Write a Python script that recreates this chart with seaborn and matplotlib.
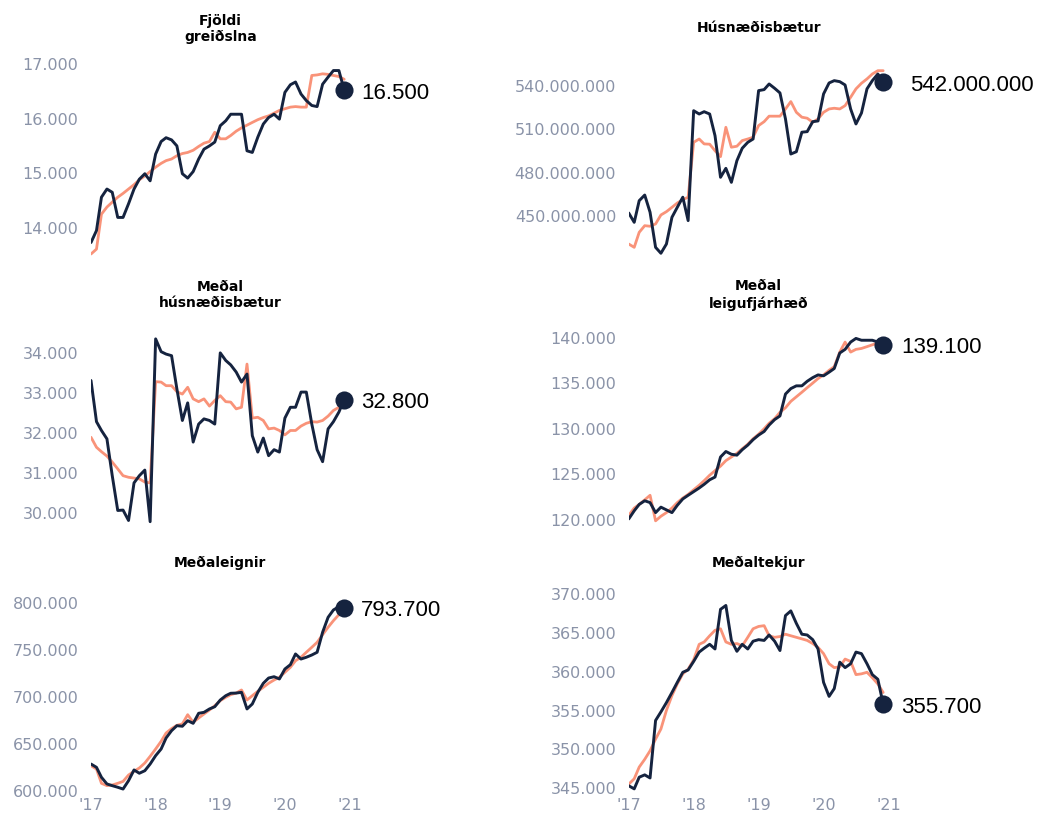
import matplotlib
matplotlib.use("Agg")
import matplotlib.pyplot as plt
import matplotlib.ticker as mticker
import seaborn as sns
import pandas as pd

# ---------------- data ----------------
months = pd.date_range("2017-01-01", periods=48, freq="MS")
year_ticks = pd.to_datetime(["2017-01-01", "2018-01-01", "2019-01-01", "2020-01-01", "2021-01-01"])
year_labels = ["'17", "'18", "'19", "'20", "'21"]

titles = ["Fjöldi\ngreiðslna", "Húsnæðisbætur", "Meðal\nhúsnæðisbætur",
          "Meðal\nleigufjárhæð", "Meðaleignir", "Meðaltekjur"]

fjoldi_monthly = [13710, 13930, 14540, 14690, 14630, 14170, 14170, 14420, 14690, 14870, 14970, 14840,
                  15330, 15560, 15630, 15590, 15480, 14970, 14890, 15010, 15240, 15420, 15480, 15550,
                  15850, 15940, 16060, 16060, 16060, 15390, 15360, 15640, 15880, 16000, 16060, 15970,
                  16460, 16600, 16650, 16430, 16310, 16220, 16200, 16610, 16740, 16860, 16860, 16500]
fjoldi_trend = [13500, 13590, 14230, 14360, 14450, 14540, 14610, 14690, 14770, 14860, 14930, 15010,
                15090, 15160, 15210, 15240, 15300, 15340, 15360, 15400, 15470, 15530, 15560, 15730,
                15610, 15610, 15670, 15750, 15810, 15860, 15910, 15960, 16000, 16030, 16080, 16130,
                16160, 16190, 16200, 16190, 16190, 16770, 16780, 16800, 16790, 16770, 16750, 16700]

# Húsnæðisbætur, in millions of krónur
husn_monthly_m = [451.4, 444.9, 459.9, 463.8, 451.9, 427.6, 423.5, 429.9, 448.4, 455.3, 462.3, 446.1,
                  522.2, 519.9, 521.5, 519.9, 504.9, 476.1, 482.3, 472.6, 487.6, 496.2, 500.3, 502.6,
                  536.1, 536.8, 540.7, 537.7, 534.5, 516.5, 492.2, 493.8, 507.3, 507.7, 514.6, 515.1,
                  533.8, 541.4, 543.0, 542.3, 540.0, 523.4, 513.0, 520.6, 537.3, 543.0, 547.6, 542.0]
husn_trend_m = [429.9, 427.6, 438.0, 442.6, 442.2, 443.8, 450.0, 452.3, 455.3, 458.3, 460.6, 462.3,
                500.3, 502.6, 499.2, 499.0, 494.5, 490.4, 510.7, 496.9, 497.6, 501.5, 502.6, 503.8,
                511.9, 514.6, 518.4, 518.4, 518.4, 523.4, 528.5, 521.1, 517.7, 517.0, 514.2, 516.5,
                521.1, 523.4, 523.9, 523.4, 525.7, 531.5, 537.3, 541.2, 544.2, 547.6, 549.9, 549.9]

medal_husn_monthly = [33280, 32250, 32030, 31820, 30900, 30030, 30040, 29780, 30720, 30900, 31040, 29750,
                      34320, 34000, 33940, 33900, 33070, 32280, 32720, 31740, 32190, 32320, 32280, 32190,
                      33970, 33780, 33670, 33490, 33240, 33440, 31900, 31490, 31840, 31400, 31550, 31490,
                      32340, 32610, 32610, 32990, 32990, 32190, 31550, 31250, 32070, 32250, 32490, 32800]
medal_husn_trend = [31860, 31610, 31500, 31390, 31240, 31070, 30900, 30860, 30840, 30820, 30740, 30720,
                    33250, 33240, 33150, 33150, 33000, 32940, 33110, 32820, 32750, 32820, 32640, 32780,
                    32900, 32750, 32740, 32570, 32610, 33690, 32340, 32360, 32280, 32070, 32090, 32030,
                    31920, 32030, 32030, 32140, 32210, 32250, 32240, 32280, 32390, 32530, 32610, 32650]

leiga_monthly = [120000, 120900, 121600, 122000, 121800, 120700, 121300, 121000, 120700, 121500, 122200, 122600,
                 123000, 123400, 123800, 124300, 124600, 126800, 127400, 127100, 127000, 127600, 128100, 128700,
                 129200, 129600, 130300, 130900, 131300, 133700, 134300, 134600, 134600, 135100, 135500, 135800,
                 135700, 136100, 136500, 138200, 138600, 139400, 139800, 139600, 139600, 139600, 139400, 139100]
leiga_trend = [120400, 121200, 121600, 122100, 122600, 119800, 120300, 120700, 121200, 121800, 122300, 122700,
               123200, 123700, 124200, 124800, 125300, 125800, 126400, 126800, 127200, 127700, 128200, 128800,
               129300, 129900, 130500, 131000, 131700, 132200, 132900, 133400, 133900, 134400, 134900, 135400,
               135800, 136300, 136700, 138300, 139400, 138300, 138600, 138700, 138900, 139100, 139300, 139400]

eignir_monthly = [627300, 623800, 613200, 606100, 604300, 602600, 600700, 609600, 621000, 617500, 620200, 627300,
                  636200, 643300, 655000, 662800, 668100, 667500, 673400, 670600, 681300, 682300, 685900, 688300,
                  695400, 700000, 702600, 702800, 703600, 685900, 691200, 703600, 713200, 718800, 720200, 717800,
                  728400, 733000, 744400, 739000, 740900, 743300, 746200, 767500, 783400, 791200, 794700, 793700]
eignir_trend = [625500, 622000, 606800, 604300, 605000, 606800, 608800, 615600, 619600, 623100, 628400, 635500,
                643300, 651500, 660300, 665000, 668500, 670000, 679800, 671700, 676300, 680500, 684800, 689400,
                694700, 698300, 701100, 702800, 706100, 695400, 700000, 704700, 708900, 713200, 716700, 719600,
                724900, 730200, 737200, 740900, 746200, 751500, 756800, 764900, 772800, 779800, 786200, 789800]

tekjur_monthly = [345200, 344800, 346300, 346600, 346200, 353600, 354700, 355900, 357200, 358500, 359800, 360100,
                  361200, 362400, 362900, 363400, 362800, 367900, 368400, 363900, 362500, 363400, 362800, 363800,
                  364000, 363900, 364600, 363800, 362600, 367100, 367700, 366100, 364700, 364600, 364000, 362800,
                  358500, 356700, 357700, 361100, 360400, 360900, 362400, 362200, 360900, 359500, 358900, 355700]
tekjur_trend = [345400, 346100, 347600, 348600, 349700, 351200, 352500, 354900, 356800, 358300, 359600, 360200,
                361400, 363400, 363700, 364500, 365200, 365400, 363700, 363400, 363500, 363200, 364300, 365400,
                365700, 365800, 364500, 364300, 364400, 364700, 364500, 364300, 364100, 363900, 363500, 363000,
                362200, 360900, 360400, 360500, 361500, 361200, 359500, 359600, 359800, 359100, 358300, 357200]

monthly_series = [fjoldi_monthly, [v * 1e6 for v in husn_monthly_m], medal_husn_monthly,
                  leiga_monthly, eignir_monthly, tekjur_monthly]
trend_series = [fjoldi_trend, [v * 1e6 for v in husn_trend_m], medal_husn_trend,
                leiga_trend, eignir_trend, tekjur_trend]

y_ticks = [[14000, 15000, 16000, 17000],
           [450e6, 480e6, 510e6, 540e6],
           [30000, 31000, 32000, 33000, 34000],
           [120000, 125000, 130000, 135000, 140000],
           [600000, 650000, 700000, 750000, 800000],
           [345000, 350000, 355000, 360000, 365000, 370000]]

# ---------------- style ----------------
NAVY = "#15233f"
SALMON = "#f99379"
GREY = "#8a93a8"

sns.set_theme(style="white")
plt.rcParams['font.family'] = ['DejaVu Sans']

W, H = 1041, 820
fig = plt.figure(figsize=(W / 100, H / 100), dpi=100)

col_px = [(91, 349.7), (628.7, 888.7)]
# (column, top px, bottom px, ylim, title centre y px, label offset px)
layout = [
    (0, 55, 262, (13372, 17163), 29, 17),
    (1, 62, 262, (418.14e6, 556.6e6), 28, 27),
    (0, 335, 528, (29617, 34442), 295, 17),
    (1, 335, 528, (119123, 140285), 295, 18),
    (0, 595, 795, (595426, 808191), 563, 17),
    (1, 585, 795, (344138, 371161), 563, 18),
]


def icelandic(v, pos=None):
    return f"{int(round(v)):,}".replace(",", ".")


for k, (col, top, bot, ylim, ty, loff) in enumerate(layout):
    x0, x1 = col_px[col]
    ax = fig.add_axes([x0 / W, 1 - bot / H, (x1 - x0) / W, (bot - top) / H])
    df = pd.DataFrame({"month": months, "monthly": monthly_series[k], "trend": trend_series[k]})
    sns.lineplot(data=df, x="month", y="trend", color=SALMON, linewidth=2.0, ax=ax, zorder=2)
    sns.lineplot(data=df, x="month", y="monthly", color=NAVY, linewidth=2.1, ax=ax, zorder=3)
    last = df.iloc[-1]
    ax.scatter([last["month"]], [last["monthly"]], s=170, color=NAVY, zorder=5, clip_on=False,
               linewidths=0)
    ax.annotate(icelandic(last["monthly"]), xy=(last["month"], last["monthly"]),
                xytext=(loff * 0.72, -1.5), textcoords="offset points", ha="left", va="center",
                fontsize=16, color="black", family=["Liberation Sans", "DejaVu Sans"],
                annotation_clip=False)
    ax.set_xlim(months[0], year_ticks[-1])
    ax.set_ylim(*ylim)
    ax.set_yticks(y_ticks[k])
    ax.yaxis.set_major_formatter(mticker.FuncFormatter(icelandic))
    ax.set_xticks(year_ticks)
    if k >= 4:
        ax.set_xticklabels(year_labels)
    else:
        ax.set_xticklabels([])
    ax.tick_params(axis="y", length=0, pad=9, labelsize=11.5, labelcolor=GREY)
    ax.tick_params(axis="x", length=0, pad=2, labelsize=11.5, labelcolor=GREY)
    ax.set_xlabel("")
    ax.set_ylabel("")
    for s in ax.spines.values():
        s.set_visible(False)
    ax.grid(False)
    ax.set_facecolor("none")
    fig.text(((x0 + x1) / 2) / W, 1 - ty / H, titles[k], ha="center", va="center",
             fontsize=10, fontweight="bold", color="black", linespacing=1.25)

fig.savefig("out.png", dpi=100, facecolor="white")
